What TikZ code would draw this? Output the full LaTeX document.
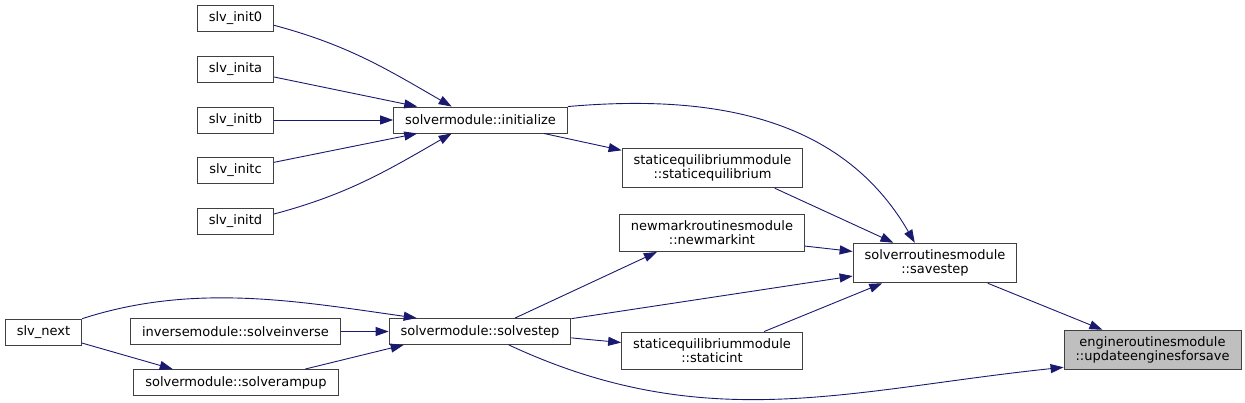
\documentclass[tikz,border=0pt]{standalone}
\usepackage{fontspec}
\setmainfont{DejaVu Sans}
\usepackage{tikz}
\usetikzlibrary{arrows.meta,positioning}

\definecolor{edgeblue}{HTML}{191970}
\definecolor{boxgrey}{HTML}{404040}
\definecolor{rootgrey}{HTML}{BFBFBF}

\begin{document}
\begin{tikzpicture}[x=1pt,y=1pt,
    fn/.style={draw=boxgrey,fill=white,line width=0.9pt,align=center,inner xsep=11.5pt,inner ysep=6.5pt,minimum height=26pt,font=\fontsize{13}{14}\selectfont},
    root/.style={fn,fill=rootgrey},
    call/.style={edgeblue,line width=0.9pt,-{Triangle[length=13pt,width=9pt]}}]
  \useasboundingbox (0,0) rectangle (1245,-403);

  \node[fn] (init0) at (235.5,-18.5) {slv\_init0};
  \node[fn] (inita) at (235.5,-69.5) {slv\_inita};
  \node[fn] (initb) at (235.5,-120) {slv\_initb};
  \node[fn] (initc) at (235.5,-170.5) {slv\_initc};
  \node[fn] (initd) at (235.5,-221.5) {slv\_initd};
  \node[fn] (initialize) at (480.5,-120) {solvermodule::initialize};
  \node[fn] (staticeq) at (712.5,-168) {staticequilibriummodule\\::staticequilibrium};
  \node[fn] (newmark) at (712,-233) {newmarkroutinesmodule\\::newmarkint};
  \node[fn] (savestep) at (935,-263) {solverroutinesmodule\\::savestep};
  \node[root] (update) at (1152.5,-350) {engineroutinesmodule\\::updateenginesforsave};
  \node[fn] (slvnext) at (43.5,-332) {slv\_next};
  \node[fn] (solveinv) at (235.5,-331.5) {inversemodule::solveinverse};
  \node[fn] (rampup) at (236,-382.5) {solvermodule::solverampup};
  \node[fn] (solvestep) at (480,-331.5) {solvermodule::solvestep};
  \node[fn] (staticint) at (712,-350.5) {staticequilibriummodule\\::staticint};

  % callers of initialize
  \draw[call] (init0.-10) to[out=-15,in=150] (initialize.155);
  \draw[call] (inita.-11) -- (initialize.168);
  \draw[call] (initb.east) -- (initialize.west);
  \draw[call] (initc.12) -- (initialize.192);
  \draw[call] (initd.11) to[out=15,in=-150] (initialize.205);

  \draw[call] (initialize.north east) to[out=5,in=120] (savestep.135);
  \draw[call] (initialize.-12) -- (staticeq.169);
  \draw[call] (staticeq.-18) -- (savestep.154);
  \draw[call] (newmark.-8) -- (savestep.172);

  % solvestep and its callers
  \draw[call] (slvnext.19) to[out=18,in=172,looseness=0.9] (solvestep.168);
  \draw[call] (solveinv.east) -- (solvestep.west);
  \draw[call] (slvnext.-16) -- (rampup.168);
  \draw[call] (rampup.11) -- (solvestep.190);
  \draw[call] (solvestep.21) -- (newmark.199);
  \draw[call] (solvestep.8) -- (savestep.189);
  \draw[call] (solvestep.-4) -- (staticint.175);
  \draw[call] (staticint.20) -- (savestep.201);
  \draw[call] (solvestep.-25) to[out=-25,in=186] (update.191);

  \draw[call] (savestep.-21) -- (update.158);
\end{tikzpicture}
\end{document}
